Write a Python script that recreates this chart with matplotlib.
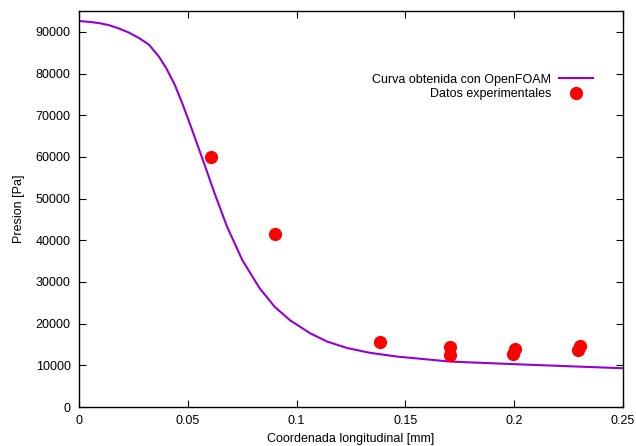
import matplotlib
matplotlib.use("Agg")
import matplotlib.pyplot as plt

plt.rcParams["font.family"] = ["Liberation Sans", "DejaVu Sans"]
plt.rcParams["font.size"] = 9

# curva OpenFOAM
x_sim = [0.0, 0.0046, 0.0092, 0.0138, 0.0184, 0.0230, 0.0276, 0.0322, 0.0368,
         0.0404, 0.0441, 0.0478, 0.0519, 0.0556, 0.0588, 0.0620, 0.0680,
         0.0750, 0.0830, 0.0900, 0.0970, 0.1062, 0.1140, 0.1232, 0.1337,
         0.1461, 0.1705, 0.2013, 0.2316, 0.25]
p_sim = [92600, 92400, 92100, 91600, 90800, 89800, 88500, 86900, 84000,
         81000, 77200, 72400, 66600, 61200, 56500, 51700, 43300,
         35300, 28500, 24000, 20800, 17700, 15700, 14150, 13000,
         12100, 10900, 10250, 9650, 9300]

# datos experimentales
x_exp = [0.0607, 0.090, 0.1383, 0.1705, 0.1705, 0.2004, 0.1995, 0.2303, 0.2293]
p_exp = [60000, 41500, 15600, 14400, 12500, 13900, 12700, 14600, 13700]

fig = plt.figure(figsize=(6.36, 4.46), dpi=100)
ax = fig.add_axes([79 / 636, 39 / 446, 544 / 636, 396 / 446])

ax.plot(x_sim, p_sim, color="#9400d3", lw=1.5, label="Curva obtenida con OpenFOAM")
ax.plot(x_exp, p_exp, "o", color="red", ms=8.5, ls="none", label="Datos experimentales")

ax.set_xlim(0, 0.25)
ax.set_ylim(0, 95000)
ax.set_xticks([0, 0.05, 0.1, 0.15, 0.2, 0.25])
ax.set_xticklabels(["0", "0.05", "0.1", "0.15", "0.2", "0.25"])
ax.set_yticks(range(0, 90001, 10000))
ax.tick_params(direction="in", top=True, right=True, length=5, width=0.8, pad=6)
for s in ax.spines.values():
    s.set_linewidth(1)

ax.set_xlabel("Coordenada longitudinal [mm]", labelpad=4)
ax.set_ylabel("Presion [Pa]", labelpad=8)

ax.legend(loc="upper right", bbox_to_anchor=(0.944, 0.842), frameon=False,
          markerfirst=False, handlelength=2.7, handletextpad=0.6,
          labelspacing=0.2, borderpad=0, borderaxespad=0, numpoints=1)

fig.savefig("out.png", dpi=100)
